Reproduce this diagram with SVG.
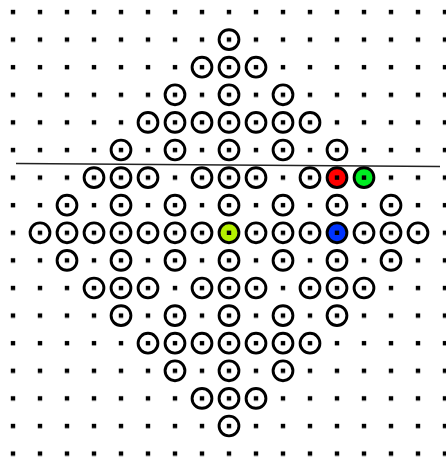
<svg xmlns="http://www.w3.org/2000/svg" xmlns:xlink="http://www.w3.org/1999/xlink" width="446" height="458" viewBox="0 0 446 458">
<style>
.ring{fill:none;stroke:#000;stroke-width:2.9}
.dot{fill:#000}
.red{fill:#ff0000}
.green{fill:#00ee22}
.yellow{fill:#b4f000}
.blue{fill:#0033ff}
</style>
<defs>
<pattern id="grid" patternUnits="userSpaceOnUse" x="0" y="0" width="27" height="27.6">
<rect class="dot" x="10.8" y="9.8" width="4.4" height="4.4"/>
</pattern>
<circle id="c" class="ring" cx="0" cy="0" r="9.9"/>
<rect id="d" class="dot" x="-2.2" y="-2.2" width="4.4" height="4.4"/>
</defs>
<rect x="0" y="0" width="446" height="458" fill="#fff"/>
<rect id="dots" x="0" y="0" width="446" height="458" fill="url(#grid)"/>
<g id="connectors">
<line x1="16" y1="163.5" x2="440" y2="166.5" stroke="#222" stroke-width="1.6"/>
</g>
<g id="nodes">
<g id="n1-8"><use href="#c" x="229" y="39.6"/></g>
<g id="n2-7"><use href="#c" x="202" y="67.2"/></g>
<g id="n2-8"><use href="#c" x="229" y="67.2"/></g>
<g id="n2-9"><use href="#c" x="256" y="67.2"/></g>
<g id="n3-6"><use href="#c" x="175" y="94.8"/></g>
<g id="n3-8"><use href="#c" x="229" y="94.8"/></g>
<g id="n3-10"><use href="#c" x="283" y="94.8"/></g>
<g id="n4-5"><use href="#c" x="148" y="122.4"/></g>
<g id="n4-6"><use href="#c" x="175" y="122.4"/></g>
<g id="n4-7"><use href="#c" x="202" y="122.4"/></g>
<g id="n4-8"><use href="#c" x="229" y="122.4"/></g>
<g id="n4-9"><use href="#c" x="256" y="122.4"/></g>
<g id="n4-10"><use href="#c" x="283" y="122.4"/></g>
<g id="n4-11"><use href="#c" x="310" y="122.4"/></g>
<g id="n5-4"><use href="#c" x="121" y="150"/></g>
<g id="n5-6"><use href="#c" x="175" y="150"/></g>
<g id="n5-8"><use href="#c" x="229" y="150"/></g>
<g id="n5-10"><use href="#c" x="283" y="150"/></g>
<g id="n5-12"><use href="#c" x="337" y="150"/></g>
<g id="n6-3"><use href="#c" x="94" y="177.6"/></g>
<g id="n6-4"><use href="#c" x="121" y="177.6"/></g>
<g id="n6-5"><use href="#c" x="148" y="177.6"/></g>
<g id="n6-7"><use href="#c" x="202" y="177.6"/></g>
<g id="n6-8"><use href="#c" x="229" y="177.6"/></g>
<g id="n6-9"><use href="#c" x="256" y="177.6"/></g>
<g id="n6-11"><use href="#c" x="310" y="177.6"/></g>
<g id="n6-12"><circle class="red" cx="337" cy="177.6" r="9.9"/><use href="#c" x="337" y="177.6"/><use href="#d" x="337" y="177.6"/></g>
<g id="n6-13"><circle class="green" cx="364" cy="177.6" r="9.9"/><use href="#c" x="364" y="177.6"/><use href="#d" x="364" y="177.6"/></g>
<g id="n7-2"><use href="#c" x="67" y="205.2"/></g>
<g id="n7-4"><use href="#c" x="121" y="205.2"/></g>
<g id="n7-6"><use href="#c" x="175" y="205.2"/></g>
<g id="n7-8"><use href="#c" x="229" y="205.2"/></g>
<g id="n7-10"><use href="#c" x="283" y="205.2"/></g>
<g id="n7-12"><use href="#c" x="337" y="205.2"/></g>
<g id="n7-14"><use href="#c" x="391" y="205.2"/></g>
<g id="n8-1"><use href="#c" x="40" y="232.8"/></g>
<g id="n8-2"><use href="#c" x="67" y="232.8"/></g>
<g id="n8-3"><use href="#c" x="94" y="232.8"/></g>
<g id="n8-4"><use href="#c" x="121" y="232.8"/></g>
<g id="n8-5"><use href="#c" x="148" y="232.8"/></g>
<g id="n8-6"><use href="#c" x="175" y="232.8"/></g>
<g id="n8-7"><use href="#c" x="202" y="232.8"/></g>
<g id="n8-8"><circle class="yellow" cx="229" cy="232.8" r="9.9"/><use href="#c" x="229" y="232.8"/><use href="#d" x="229" y="232.8"/></g>
<g id="n8-9"><use href="#c" x="256" y="232.8"/></g>
<g id="n8-10"><use href="#c" x="283" y="232.8"/></g>
<g id="n8-11"><use href="#c" x="310" y="232.8"/></g>
<g id="n8-12"><circle class="blue" cx="337" cy="232.8" r="9.9"/><use href="#c" x="337" y="232.8"/><use href="#d" x="337" y="232.8"/></g>
<g id="n8-13"><use href="#c" x="364" y="232.8"/></g>
<g id="n8-14"><use href="#c" x="391" y="232.8"/></g>
<g id="n8-15"><use href="#c" x="418" y="232.8"/></g>
<g id="n9-2"><use href="#c" x="67" y="260.4"/></g>
<g id="n9-4"><use href="#c" x="121" y="260.4"/></g>
<g id="n9-6"><use href="#c" x="175" y="260.4"/></g>
<g id="n9-8"><use href="#c" x="229" y="260.4"/></g>
<g id="n9-10"><use href="#c" x="283" y="260.4"/></g>
<g id="n9-12"><use href="#c" x="337" y="260.4"/></g>
<g id="n9-14"><use href="#c" x="391" y="260.4"/></g>
<g id="n10-3"><use href="#c" x="94" y="288"/></g>
<g id="n10-4"><use href="#c" x="121" y="288"/></g>
<g id="n10-5"><use href="#c" x="148" y="288"/></g>
<g id="n10-7"><use href="#c" x="202" y="288"/></g>
<g id="n10-8"><use href="#c" x="229" y="288"/></g>
<g id="n10-9"><use href="#c" x="256" y="288"/></g>
<g id="n10-11"><use href="#c" x="310" y="288"/></g>
<g id="n10-12"><use href="#c" x="337" y="288"/></g>
<g id="n10-13"><use href="#c" x="364" y="288"/></g>
<g id="n11-4"><use href="#c" x="121" y="315.6"/></g>
<g id="n11-6"><use href="#c" x="175" y="315.6"/></g>
<g id="n11-8"><use href="#c" x="229" y="315.6"/></g>
<g id="n11-10"><use href="#c" x="283" y="315.6"/></g>
<g id="n11-12"><use href="#c" x="337" y="315.6"/></g>
<g id="n12-5"><use href="#c" x="148" y="343.2"/></g>
<g id="n12-6"><use href="#c" x="175" y="343.2"/></g>
<g id="n12-7"><use href="#c" x="202" y="343.2"/></g>
<g id="n12-8"><use href="#c" x="229" y="343.2"/></g>
<g id="n12-9"><use href="#c" x="256" y="343.2"/></g>
<g id="n12-10"><use href="#c" x="283" y="343.2"/></g>
<g id="n12-11"><use href="#c" x="310" y="343.2"/></g>
<g id="n13-6"><use href="#c" x="175" y="370.8"/></g>
<g id="n13-8"><use href="#c" x="229" y="370.8"/></g>
<g id="n13-10"><use href="#c" x="283" y="370.8"/></g>
<g id="n14-7"><use href="#c" x="202" y="398.4"/></g>
<g id="n14-8"><use href="#c" x="229" y="398.4"/></g>
<g id="n14-9"><use href="#c" x="256" y="398.4"/></g>
<g id="n15-8"><use href="#c" x="229" y="426"/></g>
</g>
</svg>
